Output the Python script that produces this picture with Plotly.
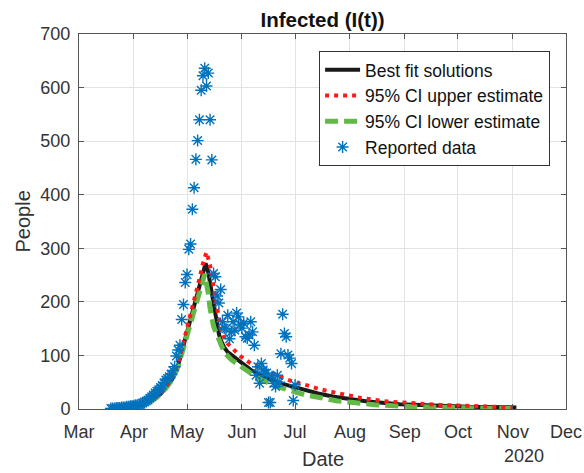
import pandas as pd
import plotly.graph_objects as go

# ---- data -------------------------------------------------------------
origin = pd.Timestamp("2020-03-01")

# daily reported infected counts, starting 2020-03-19
report_start = "2020-03-19"
reported_cases = [
    1, 1, 1, 2, 2, 2, 3, 3, 3, 4, 4, 5, 5, 6, 7, 7, 8, 9, 11, 13,
    15, 17, 20, 23, 26, 30, 33, 36, 40, 44, 49, 54, 57, 60, 65, 72, 79, 99, 110, 119,
    167, 195, 236, 251, 298, 308, 373, 413, 466, 501, 540, 595, 622, 636, 603, 627, 540, 465, 253, 247,
    211, 198, 223, 163, 151, 150, 175, 131, 144, 163, 147, 179, 172, 158, 151, 160, 135, 132, 138, 163,
    144, 119, 63, 79, 48, 85, 73, 67, 67, 12, 12, 60, 48, 42, 63, 50, 103, 177, 141, 135,
    101, 95, 85, 16, 45,
]

# model solutions (days after 2020-03-01, people)
best_days = [18, 22, 26, 30, 34, 38, 42, 46, 50, 53, 56, 59, 62, 65, 68, 70, 71.5,
             73, 74, 75, 76, 77, 78, 79, 80, 82, 84, 87, 91, 97, 106, 115, 125, 135,
             144, 153, 163, 181, 200, 220, 247]
best_fit = [1.5, 2.2, 3.3, 5, 7.5, 11.5, 18, 28, 44, 58, 82, 119, 155, 192, 230, 255, 272,
            255, 235, 217, 198, 175, 155, 140, 129, 115, 106, 98, 88, 73, 57, 47, 38, 29,
            23, 19, 14, 9, 6, 4, 3]

upper_days = [18, 22, 26, 30, 34, 38, 42, 46, 50, 53, 56, 59, 62, 65, 68, 70, 72,
              74, 76, 78, 80, 83, 87, 91, 97, 105, 115, 122, 129, 136, 144, 152, 160,
              174, 189, 204, 219, 234, 245]
upper_ci = [1.5, 2.3, 3.4, 5.2, 7.8, 12, 18.5, 29, 45, 60, 85, 123, 160, 200, 243, 272, 293,
            268, 228, 185, 150, 125, 111, 99, 85, 72, 58, 50, 44, 37, 31, 25, 20,
            14, 10, 7.5, 6, 4, 3]

lower_days = [18, 22, 26, 30, 34, 38, 42, 46, 50, 53, 56, 59, 62, 65, 68, 70, 71,
              73, 74, 76, 79, 82, 86, 91, 100, 110, 120, 128, 135, 146, 155, 167, 187,
              208, 230, 247]
lower_ci = [1.5, 2.2, 3.2, 4.9, 7.3, 11, 17.5, 27, 43, 57, 80, 116, 152, 187, 224, 245, 252,
            216, 188, 154, 127, 106, 92, 80, 60, 44, 33, 26, 22, 15, 12, 8, 4.5,
            2, 1.5, 1]

month_ticks = ["2020-03-01", "2020-04-01", "2020-05-01", "2020-06-01", "2020-07-01",
               "2020-08-01", "2020-09-01", "2020-10-01", "2020-11-01", "2020-12-01"]
month_labels = ["Mar", "Apr", "May", "Jun", "Jul", "Aug", "Sep", "Oct", "Nov", "Dec"]
people_ticks = [0, 100, 200, 300, 400, 500, 600, 700]


def to_dates(days):
    return origin + pd.to_timedelta(days, unit="D")


report_dates = pd.date_range(report_start, periods=len(reported_cases), freq="D")

# ---- figure -----------------------------------------------------------
FONT = "Liberation Sans, Arial, Helvetica, sans-serif"
TEXT = "#333333"
AXIS = "#555555"
GRID = "#e3e3e3"

fig = go.Figure()

fig.add_trace(go.Scatter(
    x=to_dates(best_days), y=best_fit, mode="lines", name="Best fit solutions",
    line=dict(color="#1a1a1a", width=4), legendgroup="a", legendrank=1))
fig.add_trace(go.Scatter(
    x=to_dates(lower_days), y=lower_ci, mode="lines", name="95% CI lower estimate",
    line=dict(color="#62b946", width=5, dash="13px,6px"), legendgroup="c", legendrank=3))
fig.add_trace(go.Scatter(
    x=to_dates(upper_days), y=upper_ci, mode="lines", name="95% CI upper estimate",
    line=dict(color="#ff1a1a", width=4, dash="4px,5px"), legendgroup="b", legendrank=2))
fig.add_trace(go.Scatter(
    x=report_dates, y=reported_cases, mode="markers", name="Reported data",
    marker=dict(symbol="asterisk-open", size=10, color="#0072BD",
                line=dict(color="#0072BD", width=1.4)),
    legendgroup="d", legendrank=4))

fig.update_layout(
    width=584, height=473,
    margin=dict(l=79, r=18, t=34, b=64, autoexpand=False),
    paper_bgcolor="white", plot_bgcolor="white",
    font=dict(family=FONT, size=18, color=TEXT),
    title=dict(text="<b>Infected (I(t))</b>", x=0.5, xref="paper",
               y=1 - 20 / 473, yanchor="middle",
               font=dict(family=FONT, size=20.5, color="#111111")),
    showlegend=True,
    legend=dict(x=0.493, y=0.955, xanchor="left", yanchor="top",
                bgcolor="white", bordercolor="#333333", borderwidth=1,
                font=dict(family=FONT, size=17.5, color="#111111"),
                itemwidth=35, tracegroupgap=0, traceorder="normal"),
)

fig.update_xaxes(
    type="date", range=["2020-03-01", "2020-12-01"], automargin=False,
    tickmode="array", tickvals=month_ticks, ticktext=month_labels,
    ticks="inside", ticklen=5, tickcolor=AXIS, ticklabelstandoff=6,
    showline=True, linecolor=AXIS, linewidth=1, mirror="ticks",
    showgrid=True, gridcolor=GRID, gridwidth=1, zeroline=False,
    tickfont=dict(family=FONT, size=18, color=TEXT),
)
fig.update_yaxes(
    range=[0, 700], tickmode="array", tickvals=people_ticks, automargin=False,
    ticks="inside", ticklen=5, tickcolor=AXIS, ticklabelstandoff=4,
    showline=True, linecolor=AXIS, linewidth=1, mirror="ticks",
    showgrid=True, gridcolor=GRID, gridwidth=1, zeroline=False,
    tickfont=dict(family=FONT, size=18, color=TEXT),
)

# axis labels and the year marker of the date axis
fig.add_annotation(text="Date", xref="paper", yref="paper", x=0.5, y=-0.133,
                   xanchor="center", yanchor="middle", showarrow=False,
                   font=dict(family=FONT, size=20, color=TEXT))
fig.add_annotation(text="People", xref="paper", yref="paper", x=-0.117, y=0.5,
                   xanchor="center", yanchor="middle", textangle=-90, showarrow=False,
                   font=dict(family=FONT, size=20, color=TEXT))
fig.add_annotation(text="2020", xref="x", yref="paper", x="2020-11-07", y=-0.125,
                   xanchor="center", yanchor="middle", showarrow=False,
                   font=dict(family=FONT, size=18, color=TEXT))

fig.write_html("out.html")
